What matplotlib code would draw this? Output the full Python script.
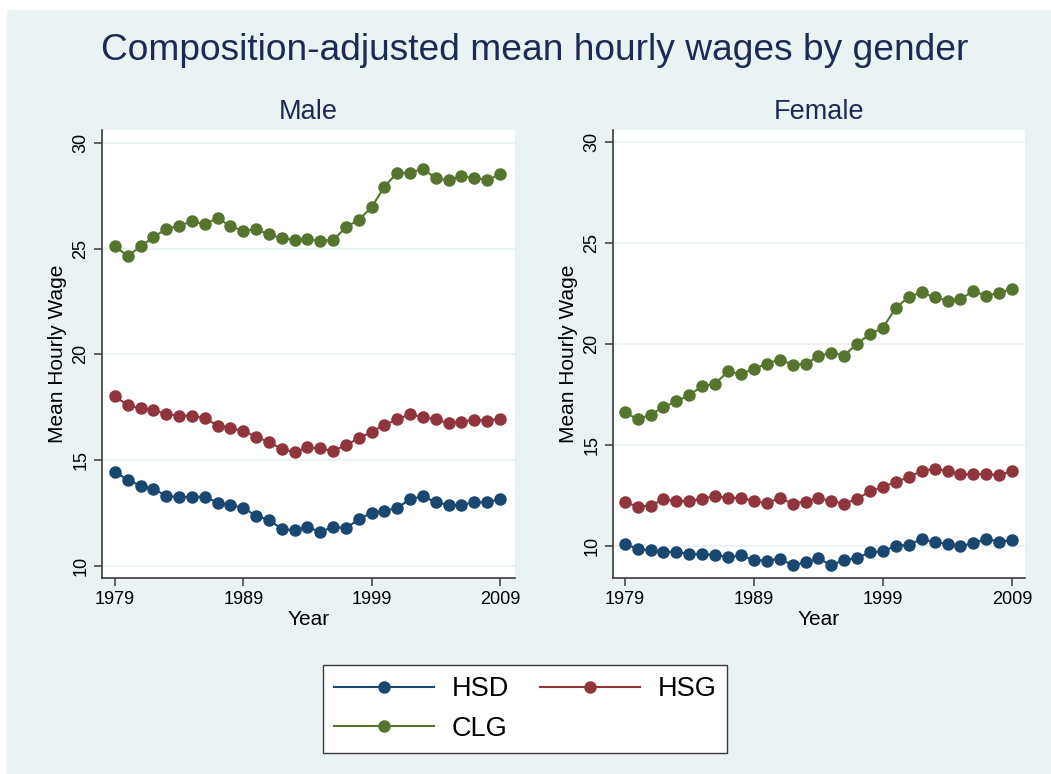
import matplotlib
matplotlib.use("Agg")
import matplotlib.pyplot as plt
from matplotlib.patches import Rectangle
from matplotlib.lines import Line2D

years = list(range(1979, 2010))

male_hsd = [14.43, 14.08, 13.78, 13.64, 13.31, 13.26, 13.27, 13.27, 12.99, 12.88,
            12.74, 12.37, 12.18, 11.74, 11.69, 11.84, 11.61, 11.84, 11.79, 12.20,
            12.52, 12.60, 12.74, 13.16, 13.29, 13.01, 12.88, 12.88, 13.02, 13.01, 13.16]
male_hsg = [18.02, 17.59, 17.44, 17.37, 17.17, 17.10, 17.10, 16.98, 16.63, 16.50,
            16.39, 16.08, 15.87, 15.52, 15.38, 15.60, 15.55, 15.43, 15.71, 16.03,
            16.34, 16.66, 16.93, 17.17, 17.03, 16.93, 16.74, 16.82, 16.91, 16.87, 16.95]
male_clg = [25.10, 24.64, 25.10, 25.54, 25.92, 26.08, 26.28, 26.14, 26.44, 26.05,
            25.84, 25.90, 25.67, 25.48, 25.41, 25.43, 25.37, 25.40, 26.00, 26.36,
            26.95, 27.93, 28.58, 28.58, 28.77, 28.31, 28.22, 28.42, 28.34, 28.23, 28.51]

female_hsd = [10.08, 9.85, 9.77, 9.69, 9.69, 9.59, 9.59, 9.54, 9.44, 9.52,
              9.29, 9.26, 9.36, 9.03, 9.17, 9.37, 9.04, 9.29, 9.39, 9.67,
              9.72, 10.00, 10.05, 10.33, 10.17, 10.10, 9.99, 10.12, 10.33, 10.20, 10.27]
female_hsg = [12.17, 11.94, 11.99, 12.29, 12.22, 12.22, 12.32, 12.47, 12.37, 12.37,
              12.22, 12.10, 12.37, 12.09, 12.19, 12.38, 12.20, 12.09, 12.32, 12.70,
              12.91, 13.16, 13.39, 13.71, 13.81, 13.71, 13.54, 13.54, 13.56, 13.48, 13.71]
female_clg = [16.62, 16.26, 16.49, 16.87, 17.15, 17.47, 17.90, 18.03, 18.64, 18.51,
              18.76, 19.02, 19.22, 18.97, 19.01, 19.39, 19.57, 19.42, 20.02, 20.48,
              20.81, 21.79, 22.33, 22.55, 22.30, 22.15, 22.22, 22.62, 22.38, 22.53, 22.73]

series_names = ["HSD", "HSG", "CLG"]
panel_titles = ["Male", "Female"]
xticks = [1979, 1989, 1999, 2009]
yticks = [10, 15, 20, 25, 30]

colors = {"HSD": "#1a476f", "HSG": "#90353b", "CLG": "#55752f"}
bg = "#eaf2f3"
title_color = "#1c2b56"

plt.rcParams['font.family'] = ['Liberation Sans', 'DejaVu Sans']

W, H = 1051, 774
fig = plt.figure(figsize=(W / 100, H / 100), dpi=100)
fig.patch.set_facecolor("white")
fig.patches.append(Rectangle((7 / W, 0), 1 - 7 / W, (H - 10) / H,
                             transform=fig.transFigure, facecolor=bg,
                             edgecolor="none", zorder=-10))

def px(x0, y0, x1, y1):
    return [x0 / W, 1 - y1 / H, (x1 - x0) / W, (y1 - y0) / H]

ax_m = fig.add_axes(px(102, 130, 515, 578))
ax_f = fig.add_axes(px(613, 130, 1025, 578))

data = {
    "Male": {"HSD": male_hsd, "HSG": male_hsg, "CLG": male_clg},
    "Female": {"HSD": female_hsd, "HSG": female_hsg, "CLG": female_clg},
}
ylims = {"Male": (9.43, 30.6), "Female": (8.40, 30.6)}
xlims = {"Male": (1977.99, 2010.17), "Female": (1978.09, 2010.0)}

for ax, name in zip([ax_m, ax_f], panel_titles):
    ax.set_facecolor("white")
    for s in series_names:
        ax.plot(years, data[name][s], color=colors[s], lw=1.5, marker="o",
                markersize=9, markeredgewidth=0, zorder=3)
    ax.set_xlim(*xlims[name])
    ax.set_ylim(*ylims[name])
    ax.set_xticks(xticks)
    ax.set_yticks(yticks)
    ax.grid(axis="y", color=bg, lw=1.3, zorder=0)
    ax.set_axisbelow(True)
    for sp in ["top", "right"]:
        ax.spines[sp].set_visible(False)
    for sp in ["left", "bottom"]:
        ax.spines[sp].set_color("#3a3a3a")
        ax.spines[sp].set_linewidth(1.2)
    ax.tick_params(axis="both", direction="out", length=6, width=1.1,
                   color="#3a3a3a", labelsize=13, labelcolor="black", pad=3)
    for lab in ax.get_yticklabels():
        lab.set_rotation(90)
        lab.set_va("center")
    ax.set_ylabel("Mean Hourly Wage", fontsize=15, labelpad=4)
    ax.set_xlabel("Year", fontsize=15, labelpad=2)
    ax.set_title(name, fontsize=19.5, color=title_color, pad=8)

fig.text(535 / W, 1 - 50 / H, "Composition-adjusted mean hourly wages by gender",
         ha="center", va="center", fontsize=26.7, color=title_color)

order = ["HSD", "CLG", "HSG"]
handles = [Line2D([0], [0], color=colors[s], lw=1.5, marker="o", markersize=9,
                  markeredgewidth=0) for s in order]
leg = fig.legend(handles, order, loc="center",
                 bbox_to_anchor=(525 / W, 1 - 709 / H), ncol=2, fontsize=19.5,
                 frameon=True, fancybox=False, edgecolor="#3a3a3a", framealpha=1,
                 handlelength=3.7, columnspacing=1.15, handletextpad=0.65,
                 labelspacing=0.5, borderpad=0.4, borderaxespad=0)
leg.get_frame().set_linewidth(1.0)
leg.get_frame().set_facecolor("white")

fig.savefig("out.png", dpi=100, facecolor=fig.get_facecolor())
